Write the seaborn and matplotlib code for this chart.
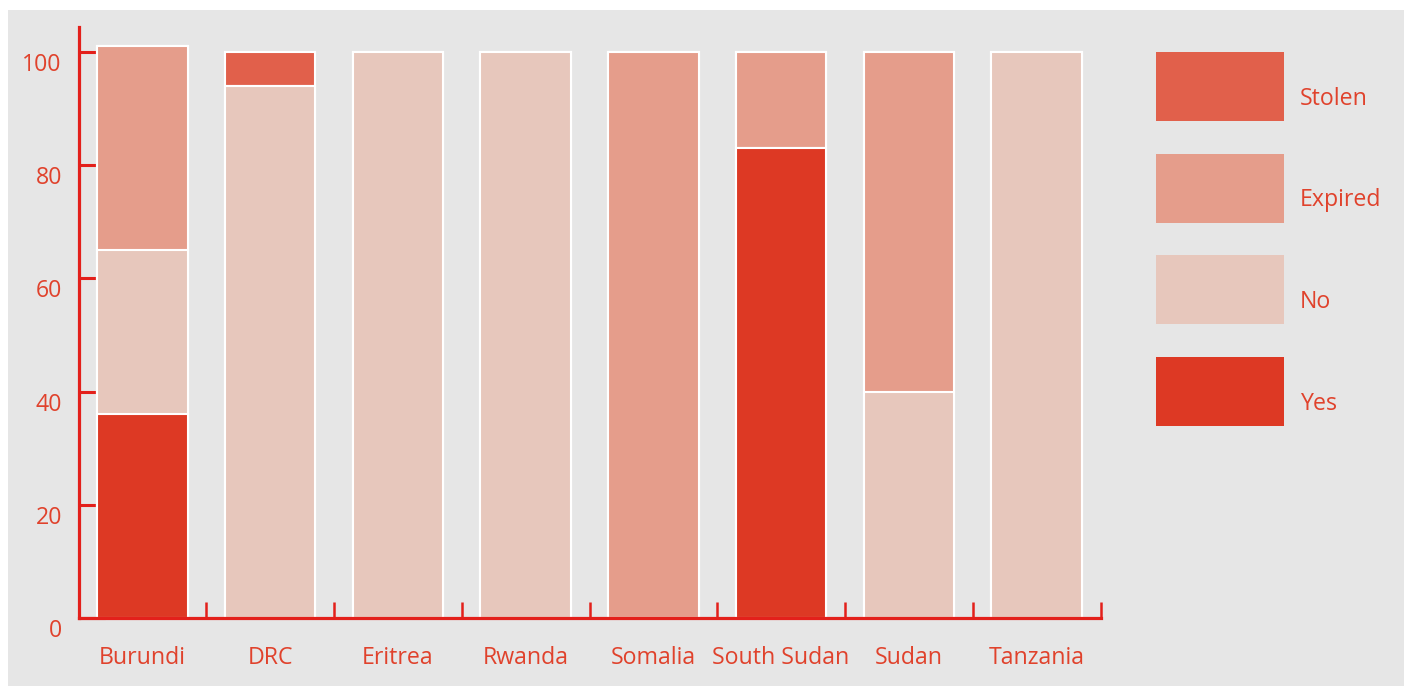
import numpy as np
import pandas as pd
import seaborn as sns
import matplotlib.pyplot as plt
import matplotlib.transforms as mtransforms
from matplotlib.patches import Patch, Rectangle

# Data (percent of respondents)
countries = ['Burundi', 'DRC', 'Eritrea', 'Rwanda', 'Somalia', 'South Sudan', 'Sudan', 'Tanzania']
yes = [36, 0, 0, 0, 0, 83, 0, 0]
no = [29, 94, 100, 100, 0, 0, 40, 100]
expired = [36, 0, 0, 0, 100, 17, 60, 0]
stolen = [0, 6, 0, 0, 0, 0, 0, 0]

statuses = ['Yes', 'No', 'Expired', 'Stolen']
colors = {'Yes': '#dd3924', 'No': '#e7c7bc', 'Expired': '#e59d8b', 'Stolen': '#e1604b'}
red = '#e0422c'
axis_red = '#e3201b'
fs = 16.7

df = pd.DataFrame({'country': countries, 'Yes': yes, 'No': no,
                   'Expired': expired, 'Stolen': stolen})
# cumulative heights, bottom to top
cum = df[statuses].cumsum(axis=1)
cum['country'] = df['country']

sns.set_style('white')
plt.rcParams['font.family'] = ['Open Sans', 'DejaVu Sans']

fig = plt.figure(figsize=(14.08, 6.86), dpi=100)
fig.patches.append(Rectangle((8 / 1408, 0), 1396 / 1408, 676 / 686,
                             transform=fig.transFigure, facecolor='#e6e6e6',
                             edgecolor='none', zorder=-10))
ax = fig.add_axes([78.5 / 1408, 68 / 686, 1022 / 1408, 591 / 686])
ax.set_facecolor('none')

# stacked bars: draw the tallest cumulative layer first, then cover it
for s in statuses[::-1]:
    sns.barplot(data=cum, x='country', y=s, order=countries, color=colors[s],
                width=0.71, edgecolor='white', linewidth=1.5, saturation=1,
                ax=ax)

ax.set_xlim(-0.5, 7.5)
ax.set_ylim(0, 104.4)
ax.set_xlabel('')
ax.set_ylabel('')
ax.set_yticks([0, 20, 40, 60, 80, 100])

sns.despine(ax=ax)
for side in ['left', 'bottom']:
    ax.spines[side].set_color(axis_red)
    ax.spines[side].set_linewidth(2.3)

ax.tick_params(axis='y', left=True, direction='in', length=19, width=2.2,
               color=axis_red, labelcolor=red, labelsize=fs, pad=12)
ax.tick_params(axis='x', which='major', bottom=True, length=0, labelcolor=red,
               labelsize=fs, pad=20)
ax.set_xticks(np.arange(0.5, 8, 1), minor=True)
ax.tick_params(axis='x', which='minor', bottom=True, direction='in',
               length=11.5, width=1.8, color=axis_red)

# y labels sit a little below their ticks
shift = mtransforms.ScaledTranslation(0, -10 / 100, fig.dpi_scale_trans)
for lab in ax.get_yticklabels():
    lab.set_transform(lab.get_transform() + shift)

handles = [Patch(facecolor=colors[s], edgecolor='none') for s in statuses[::-1]]
leg = fig.legend(handles, statuses[::-1], loc='upper left',
                 bbox_to_anchor=(1156 / 1408, 1 - 52 / 686), frameon=False,
                 fontsize=fs, handlelength=128 / (fs * 100 / 72),
                 handleheight=4.2, labelspacing=1.41, handletextpad=0.7,
                 borderpad=0, borderaxespad=0)
for t in leg.get_texts():
    t.set_color(red)
    t.set_y(-12)

fig.savefig('out.png', dpi=100, facecolor='white')
